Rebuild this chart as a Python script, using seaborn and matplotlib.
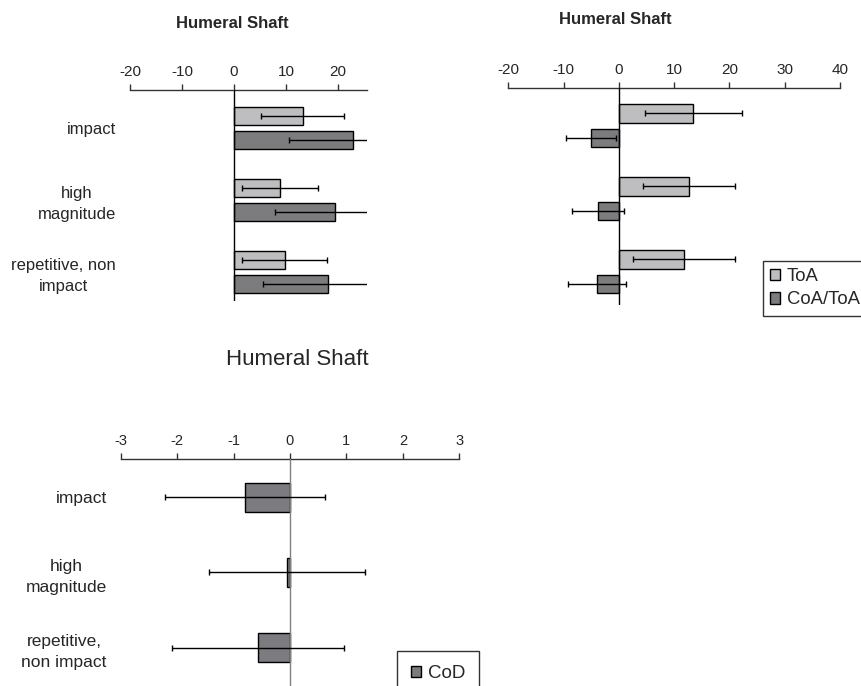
import matplotlib
matplotlib.use("Agg")
import matplotlib.pyplot as plt
from matplotlib.patches import Patch
import numpy as np
import pandas as pd
import seaborn as sns

# ---- data ---------------------------------------------------------------
cats_left = ["impact", "high\nmagnitude", "repetitive, non\nimpact"]
toa_left = [13.2, 8.8, 9.7]
toa_left_err = [8.0, 7.3, 8.2]
coa_left = [22.9, 19.5, 18.0]
coa_left_err = [12.3, 11.6, 12.5]

cats_right = ["impact", "high magnitude", "repetitive, non impact"]
toa_right = [13.5, 12.7, 11.8]
toa_right_err = [8.7, 8.3, 9.2]
coa_right = [-5.0, -3.8, -4.0]
coa_right_err = [4.5, 4.7, 5.2]

cats_cod = ["impact", "high\nmagnitude", "repetitive,\nnon impact"]
cod = [-0.80, -0.05, -0.57]
cod_err = [1.42, 1.38, 1.52]

series_names = ["ToA", "CoA/ToA"]
title = "Humeral Shaft"
ticks_top = [-20, -10, 0, 10, 20]
ticks_right = [-20, -10, 0, 10, 20, 30, 40]
ticks_cod = [-3, -2, -1, 0, 1, 2, 3]

LIGHT = "#bdbec1"
DARK = "#7b7b80"

# ---- style --------------------------------------------------------------
sns.set_style("white")
plt.rcParams["font.family"] = ["Liberation Sans", "DejaVu Sans"]
plt.rcParams["axes.unicode_minus"] = False

W, H = 862, 686
fig = plt.figure(figsize=(W / 100, H / 100), dpi=100)


def px_axes(left, top, right, bottom):
    return fig.add_axes([left / W, 1 - bottom / H, (right - left) / W, (bottom - top) / H])


def long_frame(cats, vals_a, vals_b):
    return pd.DataFrame({
        "category": cats * 2,
        "value": list(vals_a) + list(vals_b),
        "series": [series_names[0]] * len(cats) + [series_names[1]] * len(cats),
    })


def style_axis(ax, ticks, xlim, ylim, tick_size, zero_color, label_size=None):
    ax.set_xlim(*xlim)
    ax.set_ylim(*ylim)
    ax.set_xticks(ticks)
    ax.set_xticklabels([str(t) for t in ticks])
    ax.xaxis.tick_top()
    ax.tick_params(axis="x", direction="out", length=4, width=1, color="#333333",
                   labelsize=tick_size, pad=4, top=True, bottom=False)
    for s in ["bottom", "left", "right"]:
        ax.spines[s].set_visible(False)
    ax.spines["top"].set_visible(True)
    ax.spines["top"].set_color("#333333")
    ax.spines["top"].set_linewidth(1)
    ax.set_xlabel("")
    ax.set_ylabel("")
    ax.axvline(0, color=zero_color, lw=1, zorder=3)
    if label_size is None:
        ax.set_yticks([])
    else:
        ax.tick_params(axis="y", length=0, labelsize=label_size, pad=10)
        for lbl in ax.get_yticklabels():
            lbl.set_multialignment("center")
            lbl.set_linespacing(1.5)
    ax.set_facecolor("none")


def add_errorbars(ax, errs_by_series, vals_by_series):
    for cont, vals, errs in zip(ax.containers, vals_by_series, errs_by_series):
        ys = [p.get_y() + p.get_height() / 2 for p in cont.patches]
        ax.errorbar(vals, ys, xerr=errs, fmt="none", ecolor="black",
                    elinewidth=1, capsize=2.5, capthick=1, zorder=4)


# ---- top left panel -----------------------------------------------------
ax1 = px_axes(130, 90, 366.7, 300.6)
sns.barplot(data=long_frame(cats_left, toa_left, coa_left), x="value", y="category",
            hue="series", order=cats_left, hue_order=series_names, orient="h",
            palette=[LIGHT, DARK], width=0.68, gap=0.26, edgecolor="black",
            linewidth=1, legend=False, errorbar=None, ax=ax1)
add_errorbars(ax1, [toa_left_err, coa_left_err], [toa_left, coa_left])
style_axis(ax1, ticks_top, (-20, 25.5), (2.4, -0.525), 11, "black", label_size=12)
fig.text(232.5 / W, 1 - 23 / H, title, ha="center", va="center",
         fontsize=12, fontweight="bold")

# ---- top right panel ----------------------------------------------------
ax2 = px_axes(508.3, 88.3, 840, 304.7)
sns.barplot(data=long_frame(cats_right, toa_right, coa_right), x="value", y="category",
            hue="series", order=cats_right, hue_order=series_names, orient="h",
            palette=[LIGHT, DARK], width=0.68, gap=0.26, edgecolor="black",
            linewidth=1, legend=False, errorbar=None, ax=ax2)
add_errorbars(ax2, [toa_right_err, coa_right_err], [toa_right, coa_right])
style_axis(ax2, ticks_right, (-20, 40), (2.451, -0.514), 11, "black")
fig.text(615.3 / W, 1 - 19.3 / H, title, ha="center", va="center",
         fontsize=12, fontweight="bold")

handles = [Patch(facecolor=LIGHT, edgecolor="black", lw=1),
           Patch(facecolor=DARK, edgecolor="black", lw=1)]
leg = fig.legend(handles, series_names, loc="upper left",
                 bbox_to_anchor=(763 / W, 1 - 261 / H), fontsize=13.3,
                 frameon=True, fancybox=False, edgecolor="black", borderpad=0.38,
                 handlelength=0.55, handleheight=0.55, handletextpad=0.35,
                 labelspacing=0.35, borderaxespad=0)
leg.get_frame().set_linewidth(1)

# ---- bottom panel -------------------------------------------------------
ax3 = px_axes(120.7, 459.3, 459.3, 686)
df_cod = pd.DataFrame({"category": cats_cod, "value": cod})
sns.barplot(data=df_cod, x="value", y="category", order=cats_cod, orient="h",
            color=DARK, saturation=1, width=0.38, edgecolor="black", linewidth=1,
            errorbar=None, ax=ax3)
add_errorbars(ax3, [cod_err], [cod])
style_axis(ax3, ticks_cod, (-3, 3), (2.513, -0.509), 10.5, "#808080", label_size=12.5)
fig.text(297.5 / W, 1 - 359.3 / H, title, ha="center", va="center", fontsize=16)

leg2 = fig.legend([Patch(facecolor=DARK, edgecolor="black", lw=1)], ["CoD"],
                  loc="upper left", bbox_to_anchor=(396.7 / W, 1 - 651 / H),
                  fontsize=13.5, frameon=True, fancybox=False, edgecolor="black",
                  borderpad=0.75, handlelength=0.55, handleheight=0.55,
                  handletextpad=0.35, borderaxespad=0)
leg2.get_frame().set_linewidth(1)

fig.savefig("out.png", dpi=100)
